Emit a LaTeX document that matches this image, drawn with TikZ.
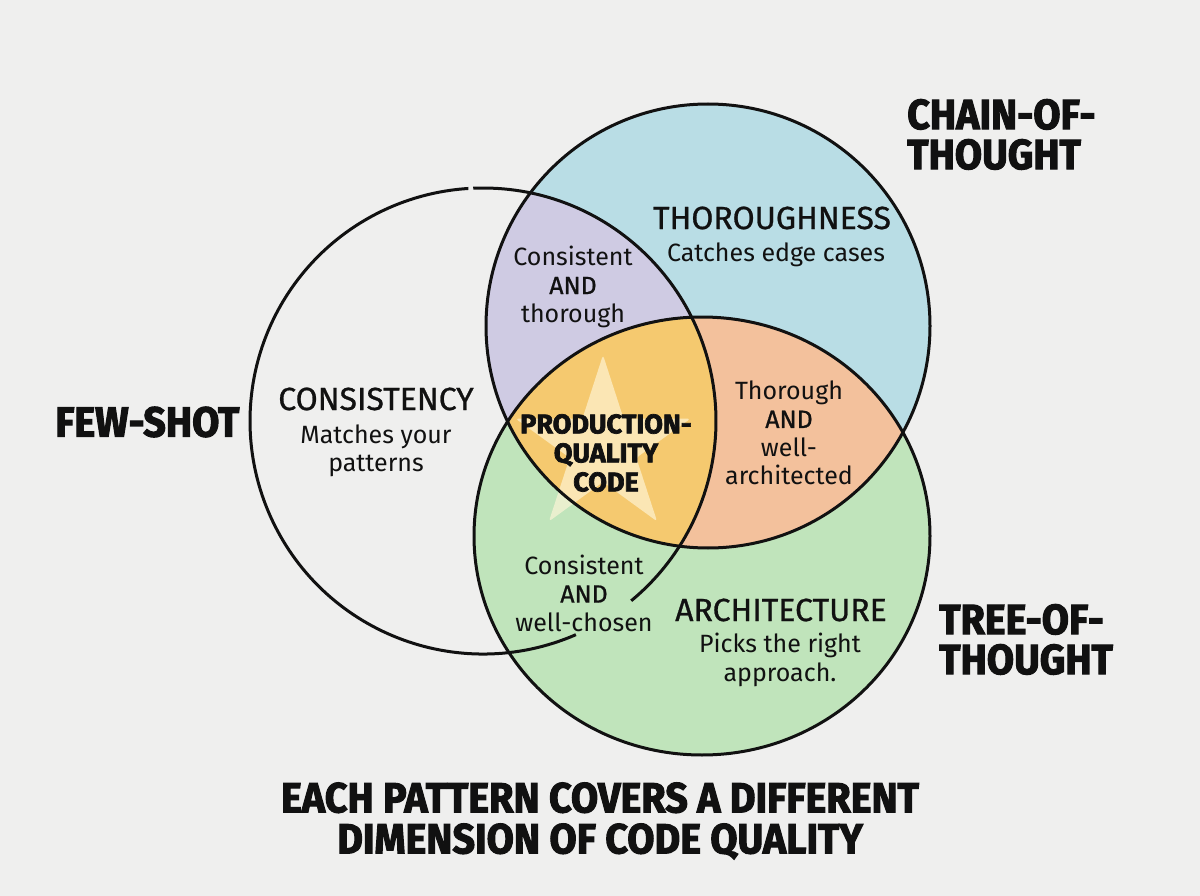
\documentclass[tikz,border=0pt]{standalone}
\usepackage{fontspec}
\setmainfont{Fira Sans}
\newfontfamily\medfont{Fira Sans}[FakeBold=0.8]
\newfontfamily\heavyfont{Fira Sans}[BoldFeatures={FakeBold=2.6}]
\definecolor{bgc}{HTML}{EFEFEE}
\definecolor{cblue}{HTML}{B9DDE5}
\definecolor{cpurple}{HTML}{CFCBE3}
\definecolor{cgreen}{HTML}{C0E4BB}
\definecolor{corange}{HTML}{F3C19C}
\definecolor{cyellow}{HTML}{F5C96F}
\definecolor{cstar}{HTML}{FFF6D8}
\definecolor{ink}{HTML}{111111}
\newcommand\cond[1]{\scalebox{0.94}[1]{#1}}
\begin{document}
\begin{tikzpicture}[x=1pt,y=-1pt,
  outline/.style={line width=3pt, draw=ink},
  lab/.style={font=\fontsize{25}{28.5}\selectfont, align=center, text=ink, inner sep=0pt},
  ttl/.style={font=\medfont\fontsize{32}{36}\selectfont, align=center, text=ink, inner sep=0pt},
  core/.style={font=\heavyfont\bfseries\fontsize{27}{29}\selectfont, align=center, text=ink, inner sep=0pt},
  hdr/.style={font=\heavyfont\bfseries\fontsize{42}{42}\selectfont, align=left, text=ink, inner sep=0pt},
  captxt/.style={font=\heavyfont\bfseries\fontsize{42}{41}\selectfont, align=center, text=ink, inner sep=0pt}]
\useasboundingbox (0,0) rectangle (1200,896);
\fill[bgc] (0,0) rectangle (1200,896);
% region fills
\fill[cblue] (708,326) circle [radius=222];
\begin{scope}
  \clip (483,421) circle [radius=233];
  \fill[cpurple] (708,326) circle [radius=222];
\end{scope}
\fill[cgreen] (702,536) ellipse [x radius=228, y radius=219];
\begin{scope}
  \clip (708,326) circle [radius=222];
  \fill[corange] (702,536) ellipse [x radius=228, y radius=219];
  \clip (483,421) circle [radius=233];
  \fill[cyellow] (702,536) ellipse [x radius=228, y radius=219];
\end{scope}
% star
\fill[cstar, opacity=0.66, rounded corners=3pt] (603,355) -- (623.6,418.7) -- (690.5,418.6) -- (636.3,457.8) -- (657.1,521.4) -- (603,482) -- (548.9,521.4) -- (569.7,457.8) -- (515.5,418.6) -- (582.4,418.7) -- cycle;
% outlines
\draw[outline] (708,326) circle [radius=222];
\draw[outline] (702,536) ellipse [x radius=228, y radius=219];
\draw[outline] (483,421) ++(66.5:233) arc [start angle=66.5, end angle=266.4, radius=233];
\draw[outline] (483,421) ++(267.6:233) arc [start angle=267.6, end angle=410.5, radius=233];
% texts
\node[ttl] (thor) at (772,218) {THOROUGHNESS};
\node[lab] (thors) at (776,255) {Catches edge cases};
\node[ttl] (cons) at (376,399) {CONSISTENCY};
\node[lab] (conss) at (376,451) {Matches your\\patterns};
\node[ttl] (arch) at (781,610) {ARCHITECTURE};
\node[lab] (archs) at (780,660) {Picks the right\\approach.};
\node[lab] (ct) at (573,287) {Consistent\\{\medfont AND}\\thorough};
\node[lab] (tw) at (789,433) {Thorough\\{\medfont AND}\\well-\\architected};
\node[lab] (cw) at (584,593) {Consistent\\{\medfont AND}\\well-chosen};
\node[core] (pq) at (606,453) {PRODUCTION-\\QUALITY\\CODE};
\node[hdr, anchor=west] (fs) at (55,422) {\cond{FEW-SHOT}};
\node[hdr, anchor=north west] (cot) at (907,99) {\cond{CHAIN-OF-}\\[-2pt]\cond{THOUGHT}};
\node[hdr, anchor=north west] (tot) at (939,604) {\cond{TREE-OF-}\\[-2pt]\cond{THOUGHT}};
\node[captxt] (caption) at (600,821) {\cond{EACH PATTERN COVERS A DIFFERENT}\\\cond{DIMENSION OF CODE QUALITY}};
\end{tikzpicture}
\end{document}
